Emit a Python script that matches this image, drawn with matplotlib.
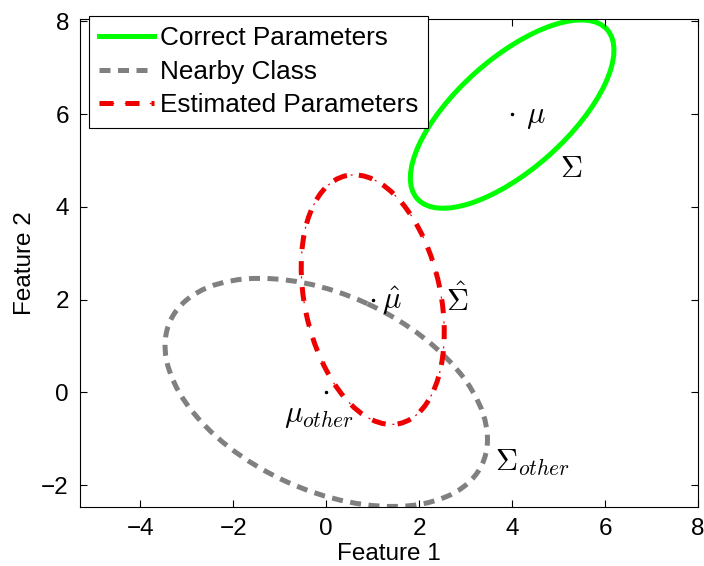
import numpy as np
import matplotlib
matplotlib.use("Agg")
import matplotlib.pyplot as plt
from matplotlib.patches import Ellipse
from matplotlib.lines import Line2D

plt.rcParams['font.family'] = ['Liberation Sans', 'DejaVu Sans']
plt.rcParams['mathtext.fontset'] = 'cm'

# class means and covariances (1-sigma contours)
mu_true = [4.0, 6.0]
sigma_true = [[4.8, 3.02], [3.02, 4.12]]
mu_other = [0.0, 0.0]
sigma_other = [[12.04, -3.5], [-3.5, 6.05]]
mu_est = [1.0, 2.0]
sigma_est = [[2.37, -1.08], [-1.08, 7.24]]

legend_names = ["Correct Parameters", "Nearby Class", "Estimated Parameters"]
xticks = [-4, -2, 0, 2, 4, 6, 8]
yticks = [-2, 0, 2, 4, 6, 8]

GREEN = "#00ff00"
GRAY = "#808080"
RED = "#ee0000"
LW = 3.6
gray_dash = (0, (2.2, 1.5))
red_dash = (0, (2.8, 2.4))
red_dot = (9.8, (1.6, 8.4))


def cov_ellipse(mean, cov, **kw):
    vals, vecs = np.linalg.eigh(np.array(cov))
    angle = np.degrees(np.arctan2(vecs[1, 1], vecs[0, 1]))
    return Ellipse(mean, 2 * np.sqrt(vals[1]), 2 * np.sqrt(vals[0]),
                   angle=angle, fill=False, **kw)


fig = plt.figure(figsize=(7.04, 5.66), dpi=100)
ax = fig.add_axes([80 / 704, 1 - 507 / 566, 618 / 704, 488 / 566])

ax.add_patch(cov_ellipse(mu_true, sigma_true, ec=GREEN, lw=LW))
ax.add_patch(cov_ellipse(mu_other, sigma_other, ec=GRAY, lw=LW,
                         ls=gray_dash, capstyle='butt'))
ax.add_patch(cov_ellipse(mu_est, sigma_est, ec=RED, lw=LW,
                         ls=red_dash, capstyle='butt'))
ax.add_patch(cov_ellipse(mu_est, sigma_est, ec=RED, lw=0.9,
                         ls=red_dot, capstyle='butt'))

means = np.array([mu_true, mu_est, mu_other])
ax.plot(means[:, 0], means[:, 1], 'k.', markersize=3)

ax.text(4.3, 5.95, r'$\mu$', fontsize=22, va='center')
ax.text(5.03, 4.82, r'$\Sigma$', fontsize=22, va='center')
ax.text(1.2, 1.97, r'$\hat{\mu}$', fontsize=22, va='center')
ax.text(2.58, 1.97, r'$\hat{\Sigma}$', fontsize=22, va='center')
ax.text(-0.9, -0.48, r'$\mu_{other}$', fontsize=22, va='center')
ax.text(3.63, -1.53, r'$\Sigma_{other}$', fontsize=22, va='center')

ax.set_xlim(-5.3, 8)
ax.set_ylim(-2.47, 8.05)
ax.set_xticks(xticks)
ax.set_yticks(yticks)
ax.tick_params(direction='in', length=5, width=0.8, top=True, right=True,
               labelsize=17.5, pad=8)
ax.set_xlabel("Feature 1", fontsize=17.5, labelpad=2)
ax.set_ylabel("Feature 2", fontsize=17.5, labelpad=4)

h_green = Line2D([], [], color=GREEN, lw=LW)
h_gray = Line2D([], [], color=GRAY, lw=LW, ls=gray_dash, dash_capstyle='butt')
h_red = (Line2D([], [], color=RED, lw=LW, ls=red_dash, dash_capstyle='butt'),
         Line2D([], [], color=RED, lw=0.9, ls=red_dot, dash_capstyle='butt'))
leg = ax.legend([h_green, h_gray, h_red], legend_names, loc='upper left',
                bbox_to_anchor=(89 / 704, 1 - 16 / 566),
                bbox_transform=fig.transFigure, borderaxespad=0,
                fontsize=18.8, fancybox=False, framealpha=1,
                handlelength=2.1, handletextpad=0.2, labelspacing=0.36,
                borderpad=0.4)
leg.get_frame().set_edgecolor('black')
leg.get_frame().set_linewidth(0.8)

fig.savefig("out.png", dpi=100)
